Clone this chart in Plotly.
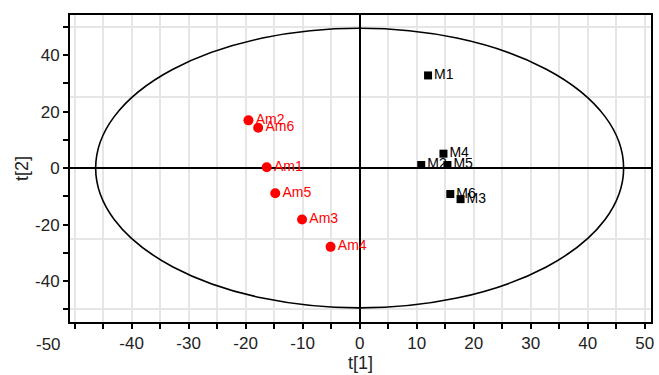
import plotly.graph_objects as go

# Data
am_labels = ["Am1", "Am2", "Am3", "Am4", "Am5", "Am6"]
am_x = [-16.3, -19.5, -10.1, -5.1, -14.8, -17.8]
am_y = [0.3, 16.9, -18.2, -27.9, -8.9, 14.3]

m_labels = ["M1", "M2", "M3", "M4", "M5", "M6"]
m_x = [12.0, 10.8, 17.7, 14.7, 15.4, 15.9]
m_y = [32.8, 1.1, -11.0, 5.1, 1.1, -9.2]

ellipse_a = 46.3
ellipse_b = 49.5

x_tickvals = [-50, -40, -30, -20, -10, 0, 10, 20, 30, 40, 50]
y_tickvals = [-40, -20, 0, 20, 40]

FONT = "Liberation Sans, Arial, sans-serif"
TXT = "#222222"

fig = go.Figure()

fig.add_trace(go.Scatter(
    x=am_x, y=am_y, mode="markers+text", text=am_labels,
    textposition="middle right",
    marker=dict(symbol="circle", size=10, color="#ff0000"),
    textfont=dict(family=FONT, size=14, color="#ff0000"),
    cliponaxis=False, showlegend=False,
))
fig.add_trace(go.Scatter(
    x=m_x, y=m_y, mode="markers+text", text=m_labels,
    textposition="middle right",
    marker=dict(symbol="square", size=8, color="#000000"),
    textfont=dict(family=FONT, size=14, color="#000000"),
    cliponaxis=False, showlegend=False,
))

fig.add_shape(type="circle", xref="x", yref="y",
              x0=-ellipse_a, x1=ellipse_a, y0=-ellipse_b, y1=ellipse_b,
              line=dict(color="#000000", width=1.6), layer="above")

# invisible trace to activate second y axis for gridlines every 25
fig.add_trace(go.Scatter(x=[None], y=[None], yaxis="y2", showlegend=False))

x_ticktext = ["" if v == -50 else str(v) for v in x_tickvals]
y_ticktext = [str(v) for v in y_tickvals]

fig.update_layout(
    width=659, height=375,
    margin=dict(l=70, r=5, t=15, b=53),
    paper_bgcolor="white", plot_bgcolor="white",
    font=dict(family=FONT, color=TXT, size=17),
    xaxis=dict(
        range=[-50.8, 51.1], tickvals=x_tickvals, ticktext=x_ticktext,
        ticks="outside", ticklen=5, tickwidth=1.5, tickcolor="#000",
        showgrid=True, gridcolor="#e6e6e6", gridwidth=1.5,
        minor=dict(dtick=5, tick0=0, ticks="outside", ticklen=5, tickwidth=1.5,
                   tickcolor="#000", showgrid=True, gridcolor="#e6e6e6", gridwidth=1.5),
        showline=True, linecolor="#000", linewidth=2, mirror=True,
        zeroline=True, zerolinecolor="#000", zerolinewidth=1.5,
        title=dict(text="t[1]", font=dict(size=18, color=TXT), standoff=4),
        tickfont=dict(size=17, color=TXT),
    ),
    yaxis=dict(
        range=[-54.5, 54.2], tickvals=y_tickvals, ticktext=y_ticktext,
        ticks="outside", ticklen=5, tickwidth=1.5, tickcolor="#000",
        showgrid=False,
        minor=dict(dtick=10, tick0=0, ticks="outside", ticklen=5, tickwidth=1.5,
                   tickcolor="#000", showgrid=False),
        showline=True, linecolor="#000", linewidth=2, mirror=True,
        zeroline=True, zerolinecolor="#000", zerolinewidth=1.5,
        title=dict(text="t[2]", font=dict(size=18, color=TXT), standoff=2),
        tickfont=dict(size=17, color=TXT),
    ),
    yaxis2=dict(
        overlaying="y", range=[-54.5, 54.2], dtick=25, tick0=0,
        showgrid=True, gridcolor="#e6e6e6", gridwidth=1.5,
        showticklabels=False, ticks="", zeroline=False, showline=False,
    ),
)

fig.add_annotation(text="-50", xref="paper", yref="paper", x=-0.037, y=-0.035,
                   xanchor="center", yanchor="top", showarrow=False,
                   font=dict(size=17, color=TXT))

fig.write_html("out.html")
